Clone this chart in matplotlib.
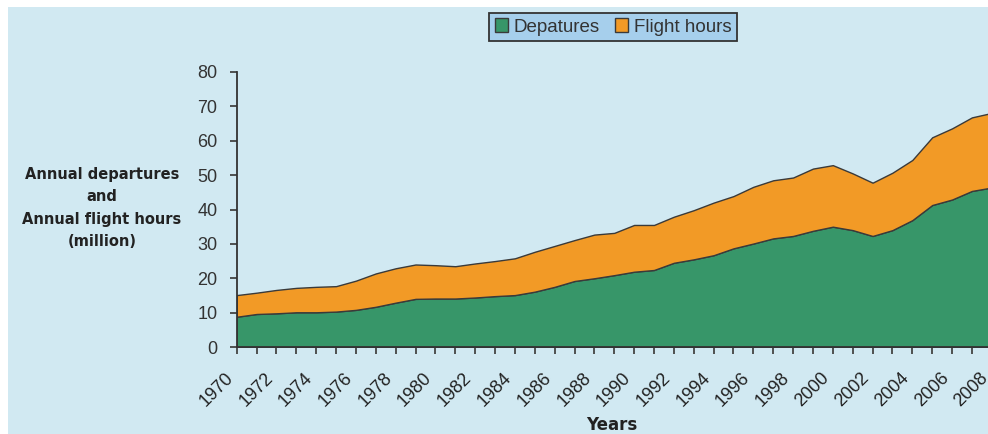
import matplotlib
matplotlib.use("Agg")
import matplotlib.pyplot as plt
from matplotlib.patches import Rectangle
from matplotlib.transforms import ScaledTranslation
import numpy as np

years = list(range(1970, 2009))
departures = [8.8, 9.6, 9.8, 10.1, 10.1, 10.3, 10.8, 11.7, 12.9, 14.0,
              14.1, 14.1, 14.4, 14.8, 15.1, 16.1, 17.5, 19.2, 20.0, 20.9,
              21.9, 22.4, 24.5, 25.5, 26.7, 28.7, 30.1, 31.6, 32.3, 33.8,
              35.0, 34.0, 32.3, 34.0, 36.9, 41.3, 42.9, 45.4, 46.4]
flight_hours = [6.3, 6.2, 6.8, 7.1, 7.4, 7.4, 8.5, 9.7, 10.0, 10.0,
                9.7, 9.4, 9.9, 10.2, 10.7, 11.6, 11.9, 11.9, 12.7, 12.3,
                13.6, 13.1, 13.4, 14.3, 15.3, 15.2, 16.5, 16.9, 17.0, 18.1,
                17.9, 16.5, 15.5, 16.7, 17.5, 19.7, 20.7, 21.4, 21.7]
tick_years = list(range(1970, 2009, 2))
y_ticks = list(range(0, 81, 10))

font = ['Liberation Sans', 'DejaVu Sans']
bg = '#d1e9f2'
green = '#379669'
orange = '#f29a26'
edge = '#3a3a3a'

fig = plt.figure(figsize=(9.88, 4.34), dpi=100, facecolor='white')
fig.patches.append(Rectangle((8/988, 0), 1, 1 - 7/434, transform=fig.transFigure,
                             facecolor=bg, edgecolor='none', zorder=-10))

ax = fig.add_axes([236.7/988, 1 - 347/434, (991.8 - 236.7)/988, (347 - 72)/434])
ax.set_facecolor(bg)
ax.patch.set_alpha(0)

ax.stackplot(years, departures, flight_hours, colors=[green, orange],
             edgecolor=edge, linewidth=1.0, labels=['Depatures', 'Flight hours'])

ax.set_xlim(1970, 2008)
ax.set_ylim(0, 80)
ax.set_yticks(y_ticks)
ax.set_yticklabels([str(v) for v in y_ticks], fontfamily=font, fontsize=13, color='#333333')
ax.set_xticks(years, minor=True)
ax.set_xticks(tick_years)
ax.set_xticklabels([str(y) for y in tick_years], rotation=45, ha='right', va='top',
                   fontfamily=font, fontsize=13, color='#222222')
off = ScaledTranslation(-7/100, 0, fig.dpi_scale_trans)
off_last = ScaledTranslation(-11/100, 0, fig.dpi_scale_trans)
labels = ax.get_xticklabels()
for i, lbl in enumerate(labels):
    lbl.set_transform(lbl.get_transform() + (off_last if i == len(labels) - 1 else off))

for s in ['top', 'right']:
    ax.spines[s].set_visible(False)
for s in ['left', 'bottom']:
    ax.spines[s].set_color('#333333')
    ax.spines[s].set_linewidth(1.3)
ax.tick_params(axis='x', which='both', direction='out', length=5, width=1.3, color='#444444', pad=11)
ax.tick_params(axis='y', direction='out', length=5, width=1.3, color='#444444', pad=9)

fig.text(102/988, 1 - 208/434, 'Annual departures\nand\nAnnual flight hours\n(million)',
         ha='center', va='center', fontsize=10.5, fontweight='bold', color='#222222',
         linespacing=1.62)
fig.text(612/988, 1 - 425/434, 'Years', ha='center', va='center', fontsize=12,
         fontweight='bold', color='#222222')

leg = fig.legend(loc='center', bbox_to_anchor=(613/988, 1 - 27/434), ncol=2,
                 frameon=True, fancybox=False,
                 prop={'family': font, 'size': 13.5},
                 handlelength=0.7, handleheight=0.7, handletextpad=0.3,
                 columnspacing=0.8, borderpad=0.3, labelcolor='#333333')
leg.get_frame().set_facecolor('#a6cfec')
leg.get_frame().set_edgecolor('#333333')
leg.get_frame().set_linewidth(1.3)
leg.get_frame().set_alpha(1)

fig.savefig('out.png', dpi=100, facecolor='white')
